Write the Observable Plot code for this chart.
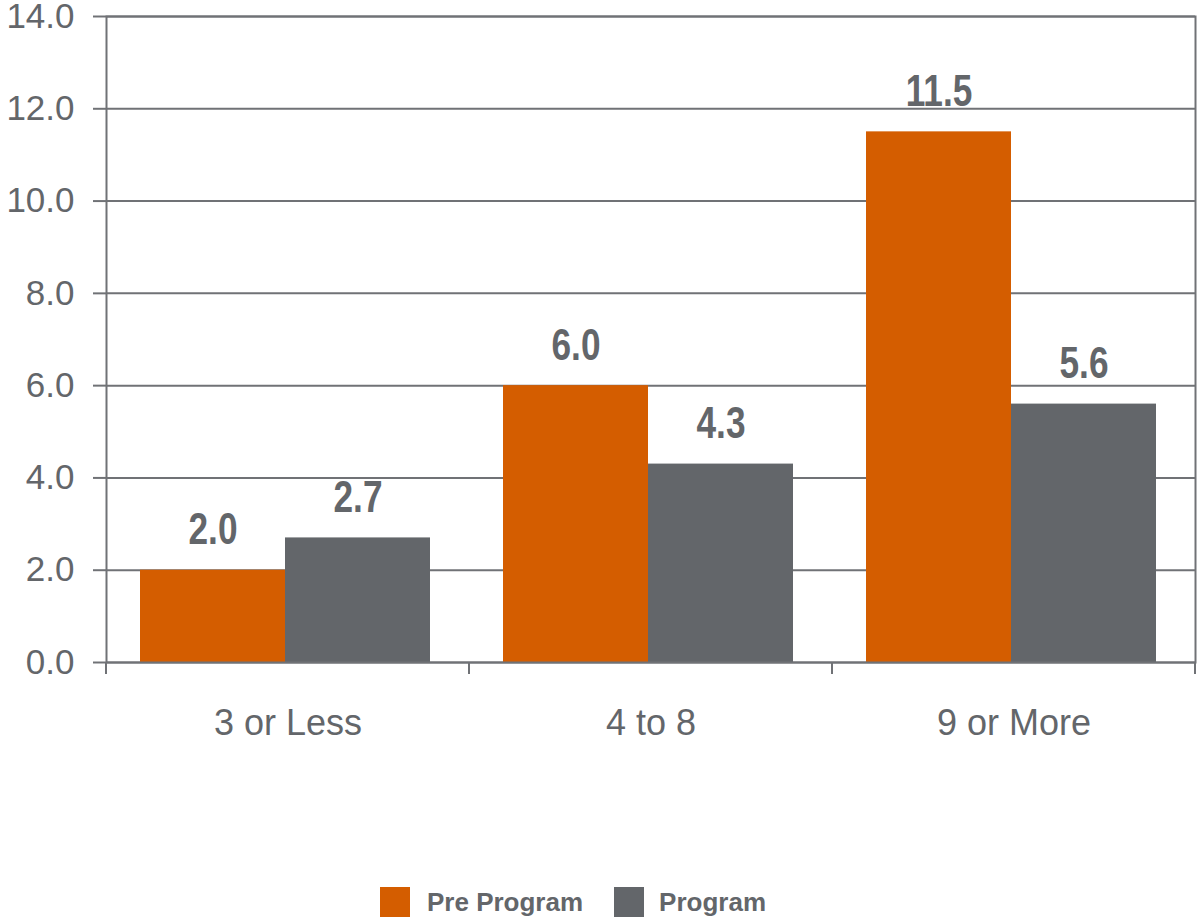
<!DOCTYPE html>
<html><head><meta charset="utf-8">
<script src="https://cdn.jsdelivr.net/npm/d3@7"></script>
<script src="https://cdn.jsdelivr.net/npm/@observablehq/plot@0.6"></script>
<style>
body{margin:0;background:#fff;font-family:"Liberation Sans",Arial,sans-serif}
#legend{height:48px;display:flex;align-items:center;padding-left:380px;font-size:26px;font-weight:bold;color:#63666a}
#legend .sw{width:30px;height:30px;display:inline-block}
</style>
</head><body><div id="chart"></div>
<script>
const categories = ["3 or Less", "4 to 8", "9 or More"];
const seriesNames = ["Pre Program", "Program"];
const preProgram = [2.0, 6.0, 11.5];
const program = [2.7, 4.3, 5.6];
const yTicks = [0, 2, 4, 6, 8, 10, 12, 14];
const colors = ["#d45d00", "#63666a"];

const lineColor = "#707276";
const textColor = "#63666a";

const data = categories.flatMap((c, i) => [
  {category: c, series: seriesNames[0], value: preProgram[i]},
  {category: c, series: seriesNames[1], value: program[i]}
]);

// bottom ticks at the edges of each category band (drawn in each facet)
function boundaryTicks(index, scales, values, dims) {
  const r = scales.x.range();
  const x0 = Math.min(...r), x1 = Math.max(...r);
  const y0 = scales.y(0);
  const g = d3.create("svg:g");
  g.selectAll("line").data([x0, x1]).join("line")
    .attr("x1", d => d).attr("x2", d => d)
    .attr("y1", y0).attr("y2", y0 + 12)
    .attr("stroke", lineColor).attr("stroke-width", 2);
  return g.node();
}

// condense bold value labels horizontally (no narrow font installed)
function condensed(index, scales, values, dims, context, next) {
  const g = next(index, scales, values, dims, context);
  if (g) g.querySelectorAll("text").forEach(t => {
    const tr = t.getAttribute("transform") || "";
    const x = t.getAttribute("x"), y = t.getAttribute("y");
    let pre = tr;
    if (x != null || y != null) {
      pre = `${tr} translate(${x || 0},${y || 0})`;
      t.removeAttribute("x"); t.removeAttribute("y");
    }
    t.setAttribute("transform", `${pre} scale(0.8,1)`);
  });
  return g;
}

const chart = Plot.plot({
  width: 1197,
  height: 878,
  marginTop: 16,
  marginBottom: 216,
  marginLeft: 105,
  marginRight: 2,
  style: {fontFamily: '"Liberation Sans", Arial, sans-serif', fontSize: "34px", color: textColor, background: "#fff"},
  fx: {domain: categories, padding: 0, label: null},
  x: {domain: seriesNames, paddingInner: 0, paddingOuter: 0.2474, align: 0.47, axis: null},
  y: {domain: [0, 14], label: null},
  color: {domain: seriesNames, range: colors},
  marks: [
    Plot.ruleY(yTicks, {stroke: lineColor, strokeWidth: 2}),
    Plot.barY(data, {fx: "category", x: "series", y: "value", fill: "series"}),
    Plot.frame({facet: "super", stroke: lineColor, strokeWidth: 2}),
    boundaryTicks,
    Plot.axisY(yTicks, {tickFormat: d3.format(".1f"), tickSize: 13, tickPadding: 19, stroke: lineColor, strokeWidth: 2, fontSize: 35, label: null}),
    Plot.axisFx({anchor: "bottom", tickSize: 0, tickPadding: 47, fontSize: 36, label: null}),
    Plot.text(data, {
      fx: "category", x: "series", y: "value",
      text: d => d.value.toFixed(1),
      lineAnchor: "bottom", dy: -26,
      fontSize: 44, fontWeight: "bold",
      fill: textColor,
      render: condensed
    })
  ]
});
document.getElementById("chart").appendChild(chart);

const legend = document.createElement("div");
legend.id = "legend";
legend.innerHTML = seriesNames.map((s, i) =>
  `<span class="sw" style="background:${colors[i]};margin-left:${i ? 31 : 0}px"></span><span style="margin-left:${i ? 15 : 17}px">${s}</span>`
).join("");
document.body.appendChild(legend);
</script>
</body></html>
